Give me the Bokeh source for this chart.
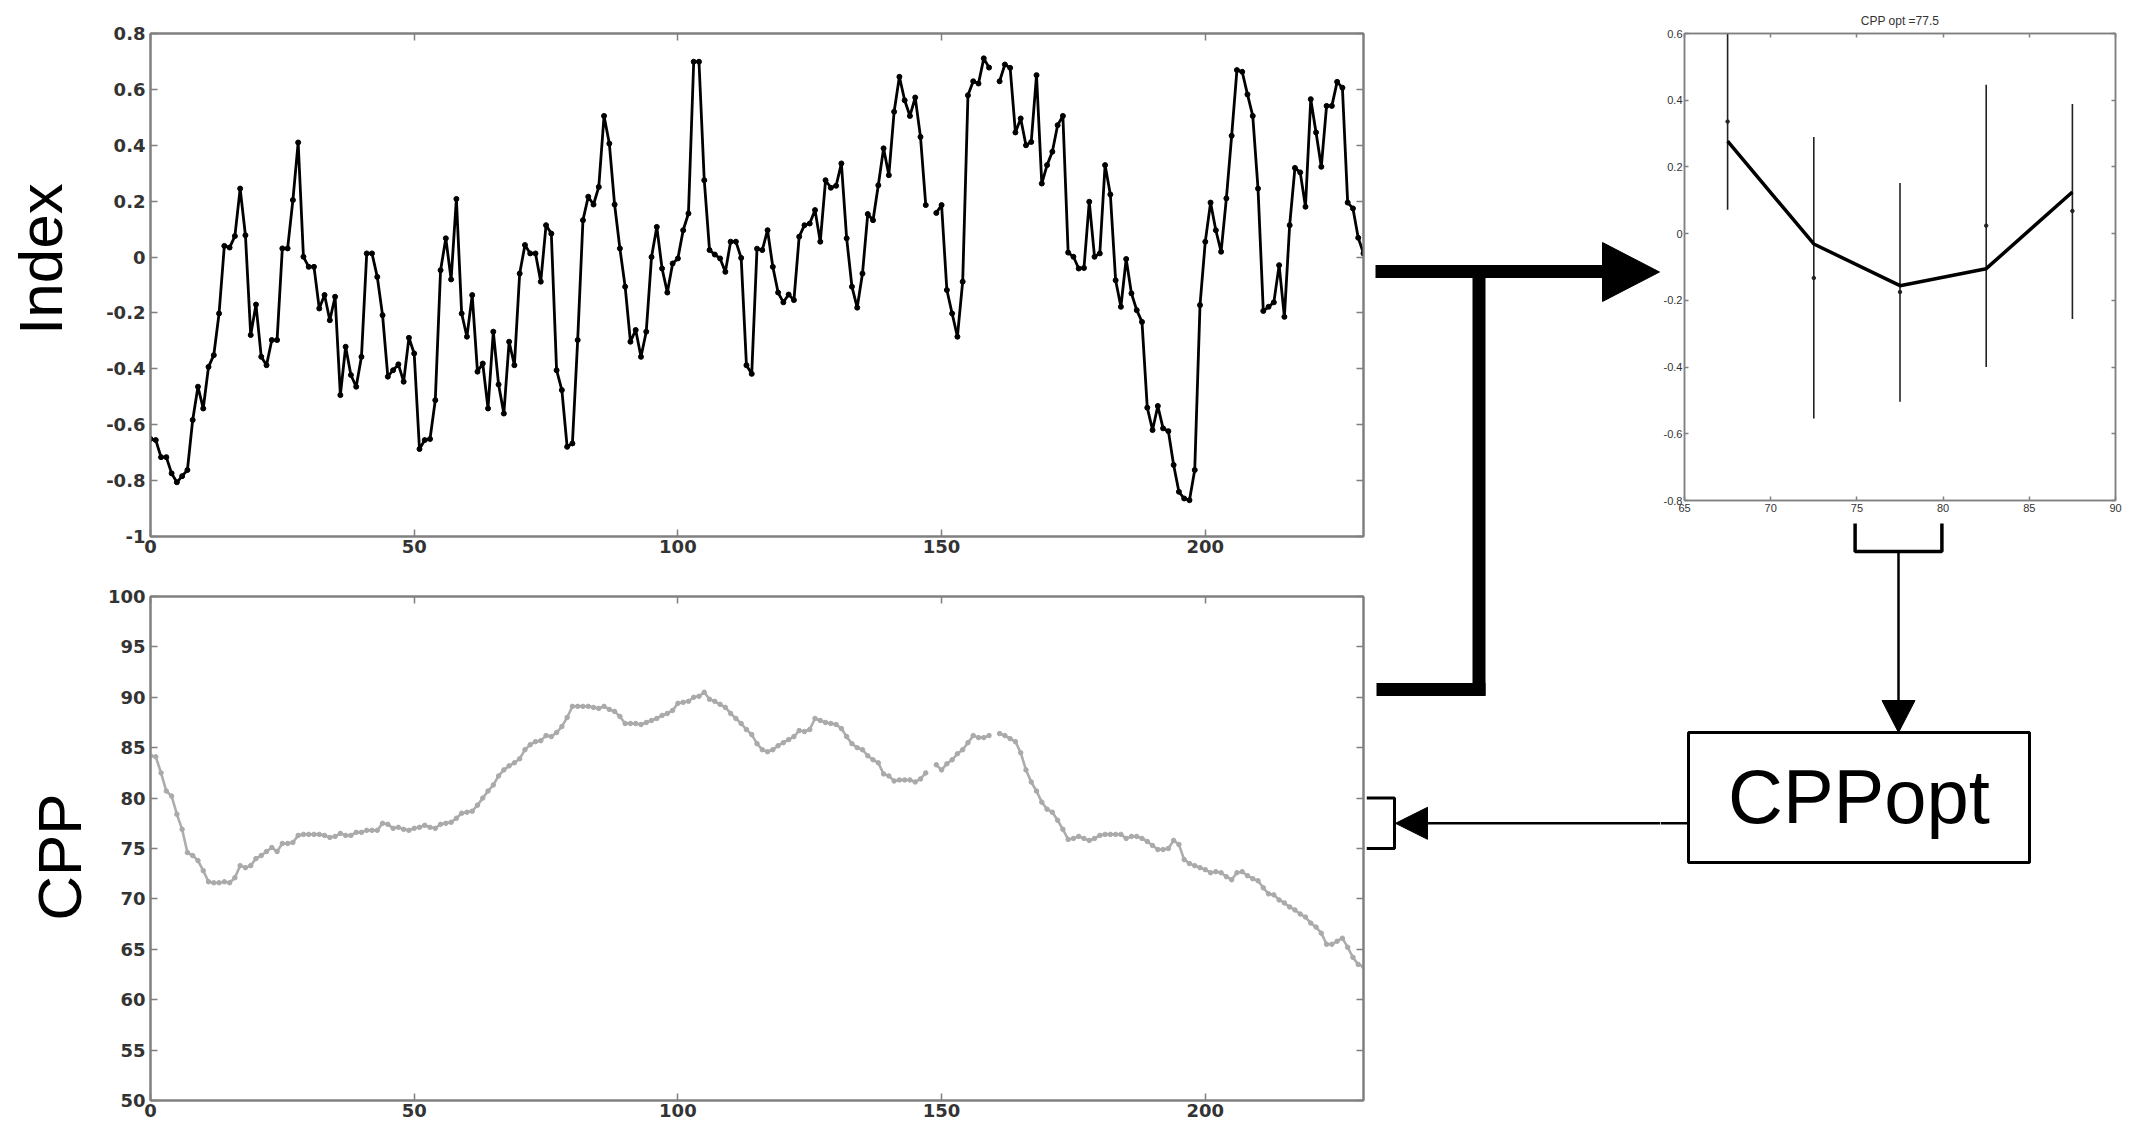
from bokeh.plotting import figure
from bokeh.models import Range1d, FixedTicker, LinearAxis
from bokeh.layouts import row, column
from bokeh.embed import file_html
from bokeh.resources import INLINE
from bokeh.core.properties import value

NaN = float("nan")

# ---------------- data ----------------
time_points = list(range(231))

index_values = [
    -0.651, -0.655, -0.716, -0.716, -0.774, -0.806, -0.784, -0.762, -0.583, -0.464,
    -0.542, -0.393, -0.351, -0.202, 0.040, 0.034, 0.075, 0.245, 0.078, -0.279,
    -0.170, -0.357, -0.387, -0.297, -0.297, 0.031, 0.031, 0.204, 0.410, 0.001,
    -0.035, -0.035, -0.184, -0.136, -0.226, -0.142, -0.494, -0.321, -0.422, -0.464,
    -0.357, 0.013, 0.013, -0.071, -0.208, -0.428, -0.405, -0.384, -0.446, -0.289,
    -0.345, -0.687, -0.655, -0.651, -0.512, -0.047, 0.067, -0.080, 0.208, -0.202,
    -0.285, -0.136, -0.410, -0.381, -0.542, -0.267, -0.456, -0.560, -0.303, -0.387,
    -0.059, 0.043, 0.013, 0.013, -0.088, 0.114, 0.084, -0.405, -0.476, -0.679,
    -0.667, -0.297, 0.132, 0.216, 0.188, 0.251, 0.505, 0.406, 0.188, 0.031,
    -0.106, -0.303, -0.261, -0.357, -0.267, 0.000, 0.108, -0.041, -0.127, -0.023,
    -0.005, 0.096, 0.156, 0.699, 0.699, 0.275, 0.025, 0.009, -0.005, -0.053,
    0.055, 0.055, -0.003, -0.387, -0.418, 0.030, 0.025, 0.096, -0.035, -0.127,
    -0.162, -0.134, -0.154, 0.073, 0.114, 0.120, 0.168, 0.055, 0.275, 0.248,
    0.255, 0.335, 0.067, -0.106, -0.181, -0.059, 0.154, 0.132, 0.257, 0.389,
    0.293, 0.520, 0.645, 0.561, 0.505, 0.571, 0.430, 0.186, NaN, 0.158,
    0.186, -0.118, -0.202, -0.285, -0.088, 0.579, 0.629, 0.621, 0.711, 0.678,
    NaN, 0.629, 0.689, 0.677, 0.446, 0.496, 0.400, 0.412, 0.651, 0.263,
    0.329, 0.377, 0.472, 0.505, 0.016, 0.001, -0.041, -0.039, 0.198, 0.001,
    0.013, 0.329, 0.224, -0.083, -0.178, -0.007, -0.130, -0.190, -0.232, -0.539,
    -0.619, -0.533, -0.613, -0.623, -0.744, -0.840, -0.864, -0.870, -0.762, -0.172,
    0.055, 0.195, 0.096, 0.019, 0.210, 0.434, 0.669, 0.663, 0.582, 0.505,
    0.245, -0.193, -0.178, -0.162, -0.029, -0.214, 0.114, 0.319, 0.303, 0.180,
    0.565, 0.446, 0.323, 0.541, 0.541, 0.627, 0.606, 0.195, 0.174, 0.069,
    0.013,
]

cpp_values = [
    84.2, 84.1, 82.5, 80.7, 80.2, 78.4, 76.9, 74.6, 74.3, 73.8,
    72.8, 71.7, 71.6, 71.6, 71.7, 71.6, 72.1, 73.3, 73.1, 73.3,
    74.0, 74.3, 74.7, 75.1, 74.7, 75.5, 75.5, 75.6, 76.3, 76.4,
    76.4, 76.4, 76.4, 76.3, 76.1, 76.2, 76.5, 76.3, 76.3, 76.6,
    76.6, 76.8, 76.8, 76.8, 77.5, 77.4, 77.0, 77.1, 76.9, 76.8,
    77.0, 77.1, 77.3, 77.1, 77.0, 77.4, 77.5, 77.6, 78.0, 78.5,
    78.6, 78.7, 79.3, 80.0, 80.7, 81.3, 82.2, 82.8, 83.2, 83.5,
    83.9, 84.8, 85.3, 85.6, 85.7, 86.2, 86.1, 86.5, 87.1, 88.0,
    89.1, 89.1, 89.1, 89.1, 89.0, 88.9, 89.1, 88.8, 88.6, 88.1,
    87.4, 87.4, 87.4, 87.3, 87.5, 87.7, 87.9, 88.2, 88.4, 88.7,
    89.4, 89.5, 89.6, 90.0, 90.1, 90.5, 89.8, 89.6, 89.3, 89.0,
    88.4, 87.9, 87.4, 86.8, 86.3, 85.4, 84.8, 84.6, 84.8, 85.2,
    85.5, 85.8, 86.1, 86.7, 86.6, 86.8, 87.9, 87.7, 87.5, 87.4,
    87.3, 86.9, 86.1, 85.4, 85.0, 84.8, 84.2, 83.8, 83.5, 82.4,
    82.2, 81.7, 81.8, 81.8, 81.8, 81.6, 81.9, 82.5, NaN, 83.3,
    82.8, 83.4, 83.8, 84.4, 84.8, 85.5, 86.2, 86.0, 86.0, 86.2,
    NaN, 86.4, 86.2, 85.9, 85.6, 84.5, 82.8, 81.6, 80.7, 79.6,
    78.9, 78.6, 77.8, 76.9, 75.9, 76.0, 76.2, 76.0, 75.8, 76.0,
    76.3, 76.4, 76.4, 76.4, 76.4, 76.0, 76.2, 76.2, 76.0, 75.7,
    75.3, 74.9, 74.9, 75.0, 75.8, 75.4, 73.9, 73.5, 73.3, 73.1,
    72.9, 72.6, 72.7, 72.6, 72.2, 71.9, 72.6, 72.7, 72.3, 72.0,
    71.8, 71.1, 70.5, 70.4, 69.9, 69.6, 69.2, 68.9, 68.5, 68.2,
    67.6, 67.2, 66.6, 65.5, 65.5, 65.8, 66.1, 65.2, 64.2, 63.5,
    63.3,
]

cpp_bins = [67.5, 72.5, 77.5, 82.5, 87.5]
bin_curve = [0.277, -0.031, -0.156, -0.105, 0.125]
bin_mean = [0.336, -0.133, -0.175, 0.024, 0.068]
bin_low = [0.072, -0.554, -0.504, -0.400, -0.256]
bin_high = [0.600, 0.290, 0.152, 0.446, 0.389]

cpp_opt = 77.5
cpp_opt_low = 75.0
cpp_opt_high = 80.0
title_text = "CPP opt =77.5"
box_text = "CPPopt"
index_label = "\u00a0\u00a0\u00a0Index"
cpp_label = "CPP\u00a0"

time_ticks = [0, 50, 100, 150, 200]
time_tick_labels = ["0", "50", "100", "150", "200"]
index_ticks = [-1.0, -0.8, -0.6, -0.4, -0.2, 0.0, 0.2, 0.4, 0.6, 0.8]
index_tick_labels = ["-1", "-0.8", "-0.6", "-0.4", "-0.2", "0", "0.2", "0.4", "0.6", "0.8"]
cpp_ticks = [50, 55, 60, 65, 70, 75, 80, 85, 90, 95, 100]
cpp_tick_labels = ["50", "55", "60", "65", "70", "75", "80", "85", "90", "95", "100"]
bin_xticks = [65, 70, 75, 80, 85, 90]
bin_xtick_labels = ["65", "70", "75", "80", "85", "90"]
bin_yticks = [-0.8, -0.6, -0.4, -0.2, 0.0, 0.2, 0.4, 0.6]
bin_ytick_labels = ["-0.8", "-0.6", "-0.4", "-0.2", "0", "0.2", "0.4", "0.6"]

# ---------------- styling ----------------
AX_GRAY = "#808080"
LBL = "#333333"
TICK_FONT = "DejaVu Sans"
SMALL_FONT = "Liberation Sans Narrow, Liberation Sans"


def style_axis(ax, ticks, labels, font, size, weight, standoff, tick_in):
    ax.ticker = FixedTicker(ticks=ticks)
    ax.major_label_overrides = {t: l for t, l in zip(ticks, labels)}
    ax.major_tick_in = tick_in
    ax.major_tick_out = 0
    ax.minor_tick_line_color = None
    ax.axis_line_color = AX_GRAY
    ax.axis_line_width = 2
    ax.major_tick_line_color = AX_GRAY
    ax.major_tick_line_width = 1.5
    ax.major_label_text_font = font
    ax.major_label_text_font_size = size
    ax.major_label_text_font_style = weight
    ax.major_label_text_color = LBL
    ax.major_label_standoff = standoff


def mirror_axis(p, side, ticks, tick_in, width=2):
    ax = LinearAxis(ticker=FixedTicker(ticks=ticks),
                    major_label_overrides={t: "" for t in ticks},
                    major_label_text_font_size="1px",
                    major_tick_in=tick_in, major_tick_out=0, major_label_standoff=0,
                    minor_tick_line_color=None, axis_line_color=AX_GRAY, axis_line_width=width,
                    major_tick_line_color=AX_GRAY, major_tick_line_width=1.5)
    p.add_layout(ax, side)


def base_fig(w, h, xr, yr, left, right, top, bottom, title=None):
    p = figure(width=w, height=h, x_range=xr, y_range=yr, output_backend="svg",
               toolbar_location=None, min_border_left=left, min_border_right=right,
               min_border_top=top, min_border_bottom=bottom, title=title)
    p.grid.visible = False
    p.outline_line_color = AX_GRAY
    p.outline_line_width = 2
    p.background_fill_color = "white"
    p.border_fill_color = "white"
    return p


def big_label(ax, text, standoff):
    ax.axis_label = text
    ax.axis_label_text_font = "Liberation Sans"
    ax.axis_label_text_font_size = "62px"
    ax.axis_label_text_font_style = "normal"
    ax.axis_label_text_color = "black"
    ax.axis_label_standoff = standoff


# ---------------- top-left: Index ----------------
tl = base_fig(1366, 566, Range1d(0, 230), Range1d(-1, 0.8), 150, 3, 33, 30)
style_axis(tl.xaxis[0], time_ticks, time_tick_labels, TICK_FONT, "18px", "bold", 3, 7)
style_axis(tl.yaxis[0], index_ticks, index_tick_labels, TICK_FONT, "18px", "bold", 5, 7)
big_label(tl.yaxis[0], index_label, 28)
mirror_axis(tl, "right", index_ticks, 7)
mirror_axis(tl, "above", time_ticks, 7)
tl.line(time_points, index_values, line_color="black", line_width=2.8)
tl.scatter(time_points, index_values, size=5, marker="circle", color="black")

# ---------------- bottom-left: CPP ----------------
bl = base_fig(1366, 563, Range1d(0, 230), Range1d(50, 100), 150, 3, 30, 29)
style_axis(bl.xaxis[0], time_ticks, time_tick_labels, TICK_FONT, "18px", "bold", 3, 7)
style_axis(bl.yaxis[0], cpp_ticks, cpp_tick_labels, TICK_FONT, "18px", "bold", 5, 7)
big_label(bl.yaxis[0], cpp_label, 11)
mirror_axis(bl, "right", cpp_ticks, 7)
mirror_axis(bl, "above", time_ticks, 7)
bl.line(time_points, cpp_values, line_color="#adadad", line_width=2.6)
bl.scatter(time_points, cpp_values, size=4.5, marker="circle", color="#aaaaaa")

# ---------------- right: Index vs CPP bins ----------------
rp = base_fig(469, 521, Range1d(65, 90), Range1d(-0.8, 0.6), 21, 14, 33, 21, title=title_text)
rp.title.align = "center"
rp.title.text_font = SMALL_FONT
rp.title.text_font_size = "12px"
rp.title.text_font_style = "normal"
rp.title.text_color = LBL
rp.title.standoff = 12
style_axis(rp.xaxis[0], bin_xticks, bin_xtick_labels, SMALL_FONT, "11px", "normal", 3, 4)
style_axis(rp.yaxis[0], bin_yticks, bin_ytick_labels, SMALL_FONT, "11px", "normal", 2, 4)
for ax in (rp.xaxis[0], rp.yaxis[0]):
    ax.axis_line_width = 1.5
rp.outline_line_width = 1.5
mirror_axis(rp, "right", bin_yticks, 4, 1.5)
mirror_axis(rp, "above", bin_xticks, 4, 1.5)
rp.segment(x0=cpp_bins, y0=bin_low, x1=cpp_bins, y1=bin_high, line_color="#222222", line_width=1.6)
rp.scatter(cpp_bins, bin_mean, size=3.5, marker="circle", color="#222222")
rp.line(cpp_bins, bin_curve, line_color="black", line_width=3.5)

# ---------------- annotation canvases (page-pixel coordinates) ----------------
R_FRAME_L, R_FRAME_R = 1681, 2115
BL_FRAME_T, BL_FRAME_B = 596, 1100


def canvas(x0, x1, y0, y1):
    p = figure(width=x1 - x0, height=y1 - y0, x_range=Range1d(x0, x1), y_range=Range1d(y1, y0),
               output_backend="svg", toolbar_location=None, min_border=0,
               x_axis_location=None, y_axis_location=None, outline_line_color=None)
    p.grid.visible = False
    p.background_fill_color = "white"
    p.border_fill_color = "white"
    return p


def right_x(v):  # right-chart data x -> page x
    return R_FRAME_L + (v - 65.0) / 25.0 * (R_FRAME_R - R_FRAME_L)


def cpp_y(v):  # CPP value -> page y on bottom-left chart
    return BL_FRAME_T + (100.0 - v) / 50.0 * (BL_FRAME_B - BL_FRAME_T)


ARROW_Y = cpp_y(cpp_opt)

# middle strip
fa = canvas(1366, 1660, 0, 1129)
fa.segment(x0=[1375], y0=[271], x1=[1603], y1=[271], line_color="black", line_width=13, line_cap="butt")
fa.patch([1602, 1659, 1602], [242, 271.5, 301], color="black")
fa.segment(x0=[1478.5], y0=[264.5], x1=[1478.5], y1=[695], line_color="black", line_width=13, line_cap="butt")
fa.segment(x0=[1376], y0=[689], x1=[1485], y1=[689], line_color="black", line_width=13, line_cap="butt")
fa.segment(x0=[1425], y0=[ARROW_Y], x1=[1660], y1=[ARROW_Y], line_color="black", line_width=2.5)
fa.patch([1395, 1427, 1427], [ARROW_Y, ARROW_Y - 16, ARROW_Y + 16], color="black")
sb_t, sb_b = cpp_y(cpp_opt_high), cpp_y(cpp_opt_low)
fa.line([1366, 1394, 1394, 1366], [sb_t, sb_t, sb_b, sb_b], line_color="black", line_width=3)

# lower right
fb = canvas(1660, 2129, 521, 1129)
bx0, bx1 = right_x(cpp_opt_low), right_x(cpp_opt_high)
bmid = (bx0 + bx1) / 2
fb.line([bx0, bx0, bx1, bx1], [523, 551, 551, 523], line_color="black", line_width=3.5)
box_l, box_r, box_t, box_b = 1688, 2029, 732, 862
fb.segment(x0=[bmid], y0=[551], x1=[bmid], y1=[box_t - 30], line_color="black", line_width=2.5)
fb.patch([bmid - 16.5, bmid + 16.5, bmid], [box_t - 32, box_t - 32, box_t], color="black")
fb.quad(left=[box_l], right=[box_r], top=[box_t], bottom=[box_b], fill_color=None,
        line_color="black", line_width=3)
fb.text(x=[(box_l + box_r) / 2], y=[796], text=[box_text], text_font=value("Liberation Sans"),
        text_font_size="76px", text_align="center", text_baseline="middle", text_color="black")
fb.segment(x0=[1660], y0=[ARROW_Y], x1=[box_l], y1=[ARROW_Y], line_color="black", line_width=2.5)

layout = row(column(tl, bl), fa, column(rp, row(fb)))
open("out.html", "w").write(file_html(layout, INLINE))
